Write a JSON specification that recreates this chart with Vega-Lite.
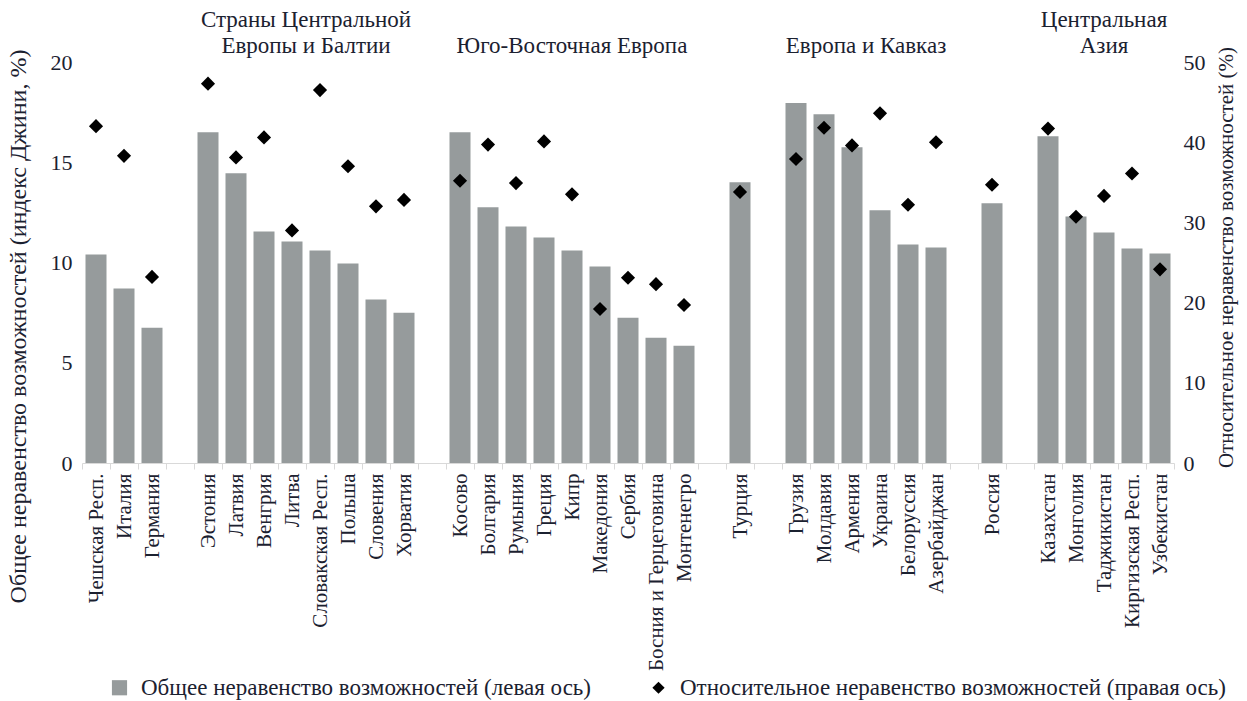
{
  "$schema": "https://vega.github.io/schema/vega-lite/v6.json",
  "autosize": {"type": "none"},
  "padding": {"left": 82, "top": 62, "right": 73, "bottom": 238},
  "width": 1092,
  "height": 401,
  "background": "white",
  "config": {
    "view": {"stroke": null},
    "font": "Liberation Serif",
    "axis": {"labelFont": "Liberation Serif", "titleFont": "Liberation Serif", "labelColor": "#1b2130", "titleColor": "#1b2130", "titleFontWeight": "normal", "grid": false},
    "legend": {"labelFont": "Liberation Serif"}
  },
  "data": {"values": [
      {"country": "Чешская Респ.", "total": 10.4, "relative": 42.0},
      {"country": "Италия", "total": 8.7, "relative": 38.3},
      {"country": "Германия", "total": 6.75, "relative": 23.2},
      {"country": "Эстония", "total": 16.5, "relative": 47.3},
      {"country": "Латвия", "total": 14.45, "relative": 38.1},
      {"country": "Венгрия", "total": 11.55, "relative": 40.6},
      {"country": "Литва", "total": 11.05, "relative": 29.0, "region": "Страны Центральной\nЕвропы и Балтии"},
      {"country": "Словакская Респ.", "total": 10.6, "relative": 46.5},
      {"country": "Польша", "total": 9.95, "relative": 37.0},
      {"country": "Словения", "total": 8.15, "relative": 32.0},
      {"country": "Хорватия", "total": 7.5, "relative": 32.8},
      {"country": "Косово", "total": 16.5, "relative": 35.2},
      {"country": "Болгария", "total": 12.75, "relative": 39.7},
      {"country": "Румыния", "total": 11.8, "relative": 34.9},
      {"country": "Греция", "total": 11.25, "relative": 40.1},
      {"country": "Кипр", "total": 10.6, "relative": 33.5, "region": "Юго-Восточная Европа"},
      {"country": "Македония", "total": 9.8, "relative": 19.2},
      {"country": "Сербия", "total": 7.25, "relative": 23.1},
      {"country": "Босния и Герцеговина", "total": 6.25, "relative": 22.3},
      {"country": "Монтенегро", "total": 5.85, "relative": 19.7},
      {"country": "Турция", "total": 14.0, "relative": 33.8},
      {"country": "Грузия", "total": 17.95, "relative": 37.9},
      {"country": "Молдавия", "total": 17.4, "relative": 41.8},
      {"country": "Армения", "total": 15.75, "relative": 39.6, "region": "Европа и Кавказ"},
      {"country": "Украина", "total": 12.6, "relative": 43.6},
      {"country": "Белоруссия", "total": 10.9, "relative": 32.2},
      {"country": "Азербайджан", "total": 10.75, "relative": 40.0},
      {"country": "Россия", "total": 12.95, "relative": 34.7},
      {"country": "Казахстан", "total": 16.3, "relative": 41.7},
      {"country": "Монголия", "total": 12.3, "relative": 30.7},
      {"country": "Таджикистан", "total": 11.5, "relative": 33.3, "region": "Центральная\nАзия"},
      {"country": "Киргизская Респ.", "total": 10.7, "relative": 36.1},
      {"country": "Узбекистан", "total": 10.45, "relative": 24.15}
  ]},
  "encoding": {
    "x": {
      "field": "country",
      "type": "nominal",
      "sort": null,
      "scale": {
        "domain": ["Чешская Респ.", "Италия", "Германия", "gap1", "Эстония", "Латвия", "Венгрия", "Литва", "Словакская Респ.", "Польша", "Словения", "Хорватия", "gap2", "Косово", "Болгария", "Румыния", "Греция", "Кипр", "Македония", "Сербия", "Босния и Герцеговина", "Монтенегро", "gap3", "Турция", "gap4", "Грузия", "Молдавия", "Армения", "Украина", "Белоруссия", "Азербайджан", "gap5", "Россия", "gap6", "Казахстан", "Монголия", "Таджикистан", "Киргизская Респ.", "Узбекистан"],
        "paddingInner": 0,
        "paddingOuter": 0
      },
      "axis": {
        "title": null,
        "labelAngle": -90,
        "labelFontSize": 21,
        "labelPadding": 4,
        "labelLimit": 400,
        "labelExpr": "indexof(datum.label + '', 'gap') === 0 ? '' : datum.label",
        "tickBand": "extent",
        "tickSize": 6,
        "tickColor": "#d9d9d9",
        "domainColor": "#d9d9d9",
        "labelOverlap": false
      }
    }
  },
  "layer": [
    {
      "layer": [
        {
          "mark": {"type": "bar", "width": {"band": 0.75}},
          "encoding": {
            "y": {
              "field": "total",
              "type": "quantitative",
              "scale": {"domain": [0, 20], "nice": false},
              "axis": {
                "orient": "left",
                "title": "Общее неравенство возможностей (индекс Джини, %)",
                "titleFontSize": 24,
                "titlePadding": 20,
                "titleY": 264,
                "values": [0, 5, 10, 15, 20],
                "labelFontSize": 22,
                "labelPadding": 10,
                "ticks": false,
                "domain": false
              }
            },
            "color": {
              "datum": "Общее неравенство возможностей  (левая ось)",
              "scale": {"domain": ["Общее неравенство возможностей  (левая ось)", "Относительное неравенство возможностей (правая ось)"], "range": ["#969b9c", "#000000"]},
              "legend": {
                "title": null,
                "orient": "none",
                "legendX": 26,
                "legendY": 614,
                "direction": "horizontal",
                "labelFontSize": 23,
                "labelColor": "#1b2130",
                "labelLimit": 700,
                "labelOffset": 10,
                "columnPadding": 50,
                "encode": {
                  "symbols": {
                    "update": {
                      "shape": {"signal": "indexof(datum.value + '', 'левая') >= 0 ? 'square' : 'diamond'"},
                      "size": {"signal": "indexof(datum.value + '', 'левая') >= 0 ? 230 : 150"},
                      "strokeWidth": {"value": 0}
                    }
                  }
                }
              }
            }
          }
        },
        {
          "transform": [{"filter": "datum.country === 'Литва'"}],
          "mark": {"type": "text", "font": "Liberation Serif", "fontSize": 23, "lineBreak": "\n", "lineHeight": 26, "baseline": "bottom", "dx": 14, "dy": -30, "color": "#1b2130"},
          "encoding": {
            "text": {"field": "region", "type": "nominal"},
            "y": {"datum": 20, "type": "quantitative"}
          }
        },
        {
          "transform": [{"filter": "datum.country === 'Армения'"}],
          "mark": {"type": "text", "font": "Liberation Serif", "fontSize": 23, "lineBreak": "\n", "lineHeight": 26, "baseline": "bottom", "dx": 14, "dy": -4, "color": "#1b2130"},
          "encoding": {
            "text": {"field": "region", "type": "nominal"},
            "y": {"datum": 20, "type": "quantitative"}
          }
        },
        {
          "transform": [{"filter": "datum.country === 'Кипр'"}],
          "mark": {"type": "text", "font": "Liberation Serif", "fontSize": 23, "lineBreak": "\n", "lineHeight": 26, "baseline": "bottom", "dy": -4, "color": "#1b2130"},
          "encoding": {
            "text": {"field": "region", "type": "nominal"},
            "y": {"datum": 20, "type": "quantitative"}
          }
        },
        {
          "transform": [{"filter": "datum.country === 'Таджикистан'"}],
          "mark": {"type": "text", "font": "Liberation Serif", "fontSize": 23, "lineBreak": "\n", "lineHeight": 26, "baseline": "bottom", "dy": -30, "color": "#1b2130"},
          "encoding": {
            "text": {"field": "region", "type": "nominal"},
            "y": {"datum": 20, "type": "quantitative"}
          }
        }
      ]
    },
    {
      "mark": {"type": "point", "shape": "diamond", "filled": true, "size": 200, "opacity": 1},
      "encoding": {
        "y": {
          "field": "relative",
          "type": "quantitative",
          "scale": {"domain": [0, 50], "nice": false},
          "axis": {
            "orient": "right",
            "title": "Относительное неравенство возможностей (%)",
            "titleFontSize": 21,
            "titleAngle": -90,
            "titlePadding": 31,
            "titleY": 195,
            "values": [0, 10, 20, 30, 40, 50],
            "labelFontSize": 22,
            "labelPadding": 9,
            "ticks": false,
            "domain": false
          }
        },
        "color": {
          "datum": "Относительное неравенство возможностей (правая ось)"
        }
      }
    }
  ],
  "resolve": {"scale": {"y": "independent"}}
}
